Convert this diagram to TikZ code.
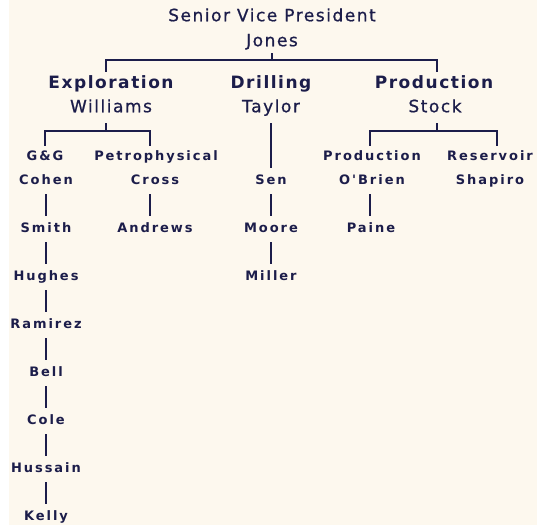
\documentclass[tikz,border=0pt]{standalone}
\usepackage{fontspec}
\setmainfont{DejaVu Sans}
\newfontfamily\headfont[LetterSpace=9, UprightFeatures={FakeBold=0.8}]{DejaVu Sans}
\newfontfamily\smallfont[LetterSpace=15]{DejaVu Sans}
\definecolor{ink}{HTML}{1C1D4A}
\definecolor{paper}{HTML}{FDF8EE}

\begin{document}
\begin{tikzpicture}[x=1pt, y=-1pt]
\tikzstyle{big} = [inner sep=0pt, text=ink, font=\headfont\fontsize{17}{19}\selectfont, text height=12.5pt, text depth=4pt]
\tikzstyle{dept} = [big, font=\headfont\bfseries\fontsize{17}{19}\selectfont, minimum height=24pt]
\tikzstyle{boss} = [big, minimum height=30pt]
\tikzstyle{unit} = [inner sep=0pt, text=ink, font=\smallfont\bfseries\fontsize{13}{15}\selectfont, text height=9.5pt, text depth=3pt, minimum height=22pt]
\tikzstyle{person} = [unit, minimum height=26pt]
\tikzstyle{edge} = [draw=ink, line width=1.3pt]

\useasboundingbox (0,0) rectangle (537,525);
\fill[paper] (9,0) rectangle (537,525);
% -----------------------------------
% Top
\node[big, minimum height=22pt] (svp) at (272,17) {Senior Vice President};
\node[big, minimum height=22pt] (jones) at (272,42) {Jones};
\coordinate (topbar) at (272,60);

\draw[edge] (jones)--(topbar);

% -----------------------------------
% Departments
\node[dept] (explo) at (111,84) {Exploration};
\node[boss] (williams) at (111,108) {Williams};
\node[dept] (drill) at (271,84) {Drilling};
\node[boss] (taylor) at (271,108) {Taylor};
\node[dept] (prod) at (434,84) {Production};
\node[boss] (stock) at (435,108) {Stock};

\draw[edge] ([xshift=-5pt]explo.north) |- (topbar) -| ([xshift=3pt]prod.north);

% -----------------------------------
% Exploration
\coordinate (explbar) at (106,131);
\node[unit] (gg) at (45,157) {G\&G};
\node[unit] (petro) at (156,157) {Petrophysical};
\node[person] (cohen) at (46,181) {Cohen};
\node[person] (smith) at (46,229) {Smith};
\node[person] (hughes) at (46,277) {Hughes};
\node[person] (ramirez) at (46,325) {Ramirez};
\node[person] (bell) at (46,373) {Bell};
\node[person] (cole) at (46,421) {Cole};
\node[person] (hussain) at (46,469) {Hussain};
\node[person] (kelly) at (46,517) {Kelly};
\node[person] (cross) at (155,181) {Cross};
\node[person] (andrews) at (155,229) {Andrews};

\draw[edge] ([xshift=-5pt]williams.south)--(explbar);
\draw[edge] (gg.north) |- (explbar) -| ([xshift=-6pt]petro.north);
\draw[edge] (cohen)--(smith);
\draw[edge] (smith)--(hughes);
\draw[edge] (hughes)--(ramirez);
\draw[edge] (ramirez)--(bell);
\draw[edge] (bell)--(cole);
\draw[edge] (cole)--(hussain);
\draw[edge] (hussain)--(kelly);
\draw[edge] ([xshift=-5pt]cross.south)--([xshift=-5pt]andrews.north);

% -----------------------------------
% Drilling
\node[person] (sen) at (271,181) {Sen};
\node[person] (moore) at (271,229) {Moore};
\node[person] (miller) at (271,277) {Miller};

\draw[edge] (taylor)--(sen);
\draw[edge] (sen)--(moore);
\draw[edge] (moore)--(miller);

% -----------------------------------
% Production
\coordinate (prodbar) at (437,131);
\node[unit] (produnit) at (372,157) {Production};
\node[unit] (reserv) at (490,157) {Reservoir};
\node[person] (obrien) at (372,181) {O'Brien};
\node[person] (paine) at (371,229) {Paine};
\node[person] (shapiro) at (490,181) {Shapiro};

\draw[edge] ([xshift=2pt]stock.south)--(prodbar);
\draw[edge] ([xshift=-2pt]produnit.north) |- (prodbar) -| ([xshift=7pt]reserv.north);
\draw[edge] ([xshift=-2pt]obrien.south)--([xshift=-1pt]paine.north);
% -----------------------------------
\end{tikzpicture}
\end{document}
